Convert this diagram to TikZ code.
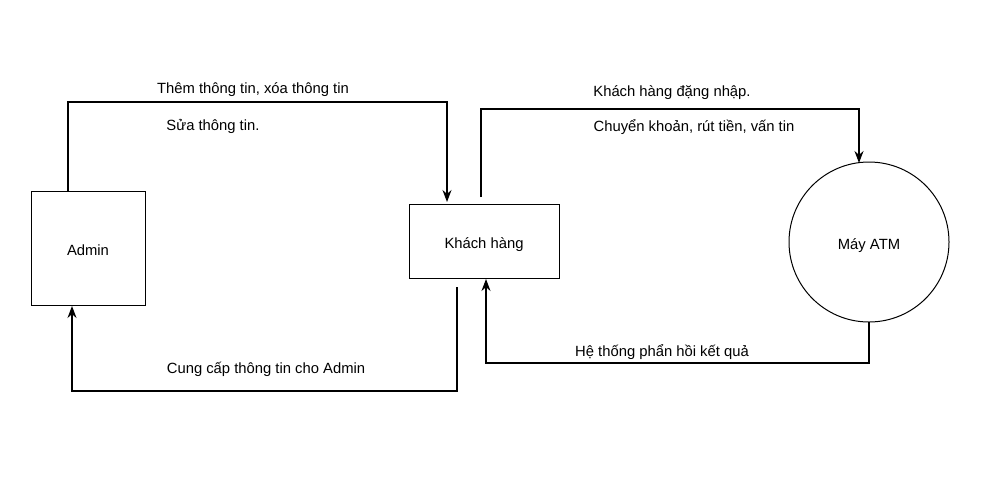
\documentclass[tikz,border=0pt]{standalone}
\usepackage{fontspec}
\setmainfont{Liberation Sans}
\usetikzlibrary{arrows.meta}
\begin{document}
\begin{tikzpicture}[x=1pt,y=-1pt,
  box/.style={draw,line width=1pt,inner sep=0pt,font=\fontsize{14.8}{17}\selectfont,text depth=0pt,text height=14pt},
  lbl/.style={font=\fontsize{14.8}{17}\selectfont,inner sep=0pt},
  conn/.style={line width=1.1pt,-{Stealth[length=12pt,width=9pt]}}]
\useasboundingbox (0,0) rectangle (987,491);
\node[box,minimum width=114pt,minimum height=114pt] (admin) at (88,248) {Admin};
\node[box,minimum width=150pt,minimum height=74pt] (kh) at (484,241) {Khách hàng};
\node[box,circle,minimum size=160pt] (atm) at (869,242) {Máy ATM};
% connector 1
\coordinate (a1) at (68,191);
\draw[conn] (a1) |- (447,102) -- (447,202);
% connector 2
\coordinate (k2) at (481,197);
\draw[conn] (k2) |- (859,109) -- (859,163);
% connector 3
\coordinate (m3) at (869,322);
\draw[conn] (m3) |- (486,363) -- (486,279);
% connector 4
\coordinate (k4) at (457,287);
\draw[conn] (k4) |- (72,391) -- (72,306);
\node[lbl] (t1) at (253,90) {Thêm thông tin, xóa thông tin};
\node[lbl] (t2) at (213,126) {Sửa thông tin.};
\node[lbl] (t3) at (672,93) {Khách hàng đặng nhập.};
\node[lbl] (t4) at (694,127) {Chuyển khoản, rút tiền, vấn tin};
\node[lbl] (t5) at (662,352) {Hệ thống phẩn hồi kết quả};
\node[lbl] (t6) at (266,369) {Cung cấp thông tin cho Admin};
\end{tikzpicture}
\end{document}
